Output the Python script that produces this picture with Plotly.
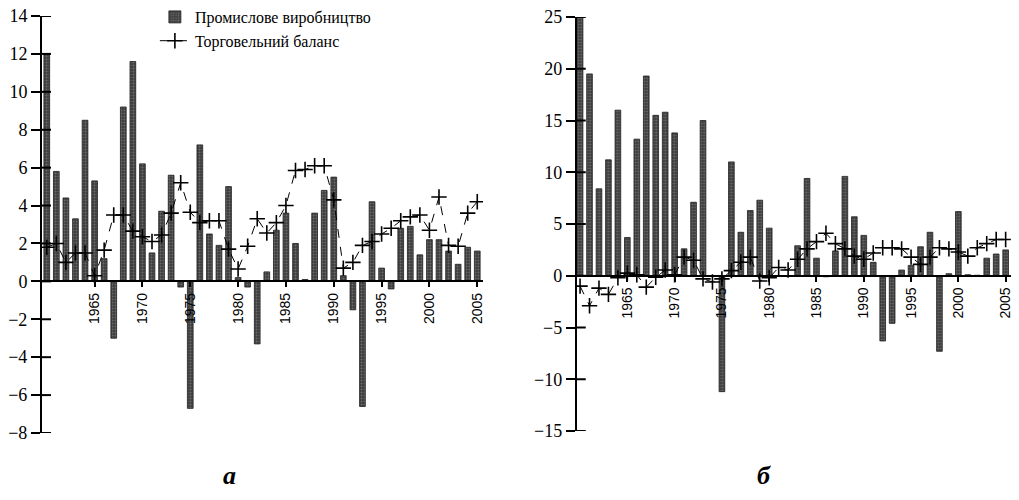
import plotly.graph_objects as go

# Роки спостережень
years = list(range(1960, 2006))

# Панель (а): промислове виробництво та торговельний баланс
ind_a = [12.0, 5.8, 4.4, 3.3, 8.5, 5.3, 1.2, -3.0, 9.2, 11.6,
         6.2, 1.5, 3.7, 5.6, -0.3, -6.7, 7.2, 2.5, 1.9, 5.0,
         0.2, -0.3, -3.3, 0.5, 2.7, 3.6, 2.0, 0.1, 3.6, 4.8,
         5.5, 0.3, -1.5, -6.6, 4.2, 0.7, -0.4, 2.8, 2.9, 1.4,
         2.2, 2.2, 1.6, 0.9, 1.8, 1.6]
trade_a = [1.8, 2.0, 1.0, 1.5, 1.5, 0.3, 1.65, 3.5, 3.5, 2.65,
           2.35, 2.1, 2.45, 3.6, 5.2, 3.65, 3.1, 3.2, 3.2, 1.7,
           0.65, 1.85, 3.3, 2.55, 3.1, 4.0, 5.85, 5.9, 6.1, 6.1,
           4.3, 0.7, 1.0, 1.9, 2.1, 2.5, 2.8, 3.2, 3.4, 3.5,
           2.7, 4.45, 1.9, 1.85, 3.6, 4.2]

# Панель (б)
ind_b = [25.0, 19.5, 8.4, 11.2, 16.0, 3.7, 13.2, 19.3, 15.5, 15.8,
         13.8, 2.6, 7.1, 15.0, 0.0, -11.2, 11.0, 4.2, 6.3, 7.3,
         4.6, 0.0, 0.0, 2.9, 9.4, 1.7, -0.1, 2.4, 9.6, 5.7,
         3.9, 1.3, -6.3, -4.6, 0.55, 1.0, 2.8, 4.2, -7.3, 0.2,
         6.2, 0.1, 0.05, 1.7, 2.1, 2.5]
trade_b = [-1.0, -2.9, -1.2, -1.8, -0.2, 0.25, 0.1, -1.1, -0.15, 0.55,
           0.1, 1.8, 1.5, -0.3, -0.6, -0.3, 0.5, 1.3, 1.8, -0.5,
           -0.2, 0.8, 0.55, 1.6, 2.6, 3.3, 4.1, 3.1, 2.6, 1.9,
           1.6, 2.2, 2.7, 2.7, 2.6, 1.8, 1.1, 1.8, 2.7, 2.6,
           2.3, 1.9, 2.7, 3.1, 3.5, 3.5]

x_ticks = [1965, 1970, 1975, 1980, 1985, 1990, 1995, 2000, 2005]
x_tick_text = [str(v) for v in x_ticks]

name_ind = "Промислове виробництво"
name_trade = "Торговельний баланс"

bar_style = dict(
    color="#5a5a5a",
    line=dict(color="#1e1e1e", width=0.8),
    pattern=dict(shape=".", fgcolor="#9a9a9a", bgcolor="#3c3c3c", size=3, solidity=0.35),
)
line_style = dict(color="black", width=1, dash="dash")
marker_style = dict(symbol="cross-thin", size=11, line=dict(color="black", width=1.6))

fig = go.Figure()

fig.add_trace(go.Bar(x=years, y=ind_a, width=0.6, marker=bar_style, name=name_ind,
                     xaxis="x", yaxis="y"))
fig.add_trace(go.Scatter(x=years, y=trade_a, mode="lines+markers", line=line_style,
                         marker=marker_style, name=name_trade, xaxis="x", yaxis="y"))
fig.add_trace(go.Bar(x=years, y=ind_b, width=0.6, marker=bar_style, name=name_ind,
                     showlegend=False, xaxis="x2", yaxis="y2"))
fig.add_trace(go.Scatter(x=years, y=trade_b, mode="lines+markers", line=line_style,
                         marker=marker_style, name=name_trade, showlegend=False,
                         xaxis="x2", yaxis="y2"))

serif = "Liberation Serif, Times New Roman, serif"
sans = "Liberation Sans, Arial, sans-serif"

ya_range = [-8, 14]
yb_range = [-15, 25]
ya_dom = [0.134, 0.968]
yb_dom = [0.138, 0.966]
xa_dom = [0.0412, 0.474]
xb_dom = [0.566, 0.992]
FIG_W = 1019


def zero_pos(dom, rng):
    return dom[0] + (dom[1] - dom[0]) * (0 - rng[0]) / (rng[1] - rng[0])


def y_axis(dom, rng, step, anchor):
    return dict(domain=dom, range=rng, dtick=step, tick0=0, anchor=anchor,
                automargin=False,
                showgrid=False, zeroline=False, showline=True, linecolor="black",
                linewidth=2, ticks="outside", ticklen=9, tickwidth=2, tickcolor="black",
                tickfont=dict(family=serif, size=18, color="black"))


def inner_ticks(rng, step, xref, yref, xdom):
    # Короткі риски праворуч від осі, щоб поділки мали вигляд хрестиків
    frac = 9 / (FIG_W * (xdom[1] - xdom[0]))
    out = []
    n = int(round((rng[1] - rng[0]) / step))
    for i in range(n + 1):
        v = rng[0] + i * step
        out.append(dict(type="line", xref=xref + " domain", yref=yref, layer="above",
                        x0=0, x1=frac, y0=v, y1=v,
                        line=dict(color="black", width=2)))
    return out


common_x = dict(showgrid=False, zeroline=False, showline=True, linecolor="black",
                linewidth=2, ticks="outside", ticklen=5, tickwidth=1.5, tickcolor="black",
                tickvals=x_ticks, ticktext=x_tick_text, tickangle=-90, automargin=False,
                tickfont=dict(family=sans, size=14, color="black"), anchor="free")

fig.update_layout(
    width=FIG_W, height=500,
    margin=dict(l=0, r=0, t=0, b=0, autoexpand=False),
    paper_bgcolor="white", plot_bgcolor="white",
    xaxis=dict(domain=xa_dom, range=[1959.5, 2005.6],
               position=zero_pos(ya_dom, ya_range), **common_x),
    yaxis=y_axis(ya_dom, ya_range, 2, "x"),
    xaxis2=dict(domain=xb_dom, range=[1959.65, 2005.55],
                position=zero_pos(yb_dom, yb_range), **common_x),
    yaxis2=y_axis(yb_dom, yb_range, 5, "x2"),
    legend=dict(x=0.152, y=1.0, xanchor="left", yanchor="top",
                font=dict(family=serif, size=16, color="black"),
                bgcolor="rgba(0,0,0,0)", tracegroupgap=0),
    shapes=inner_ticks(ya_range, 2, "x", "y", xa_dom) + inner_ticks(yb_range, 5, "x2", "y2", xb_dom),
    annotations=[
        dict(text="<b><i>а</i></b>", x=221 / FIG_W, y=0.05, xref="paper", yref="paper",
             yanchor="middle", showarrow=False,
             font=dict(family=serif, size=26, color="black")),
        dict(text="<b><i>б</i></b>", x=773 / FIG_W, y=0.05, xref="paper", yref="paper",
             yanchor="middle", showarrow=False,
             font=dict(family=serif, size=26, color="black")),
    ],
)

fig.write_html("out.html")
